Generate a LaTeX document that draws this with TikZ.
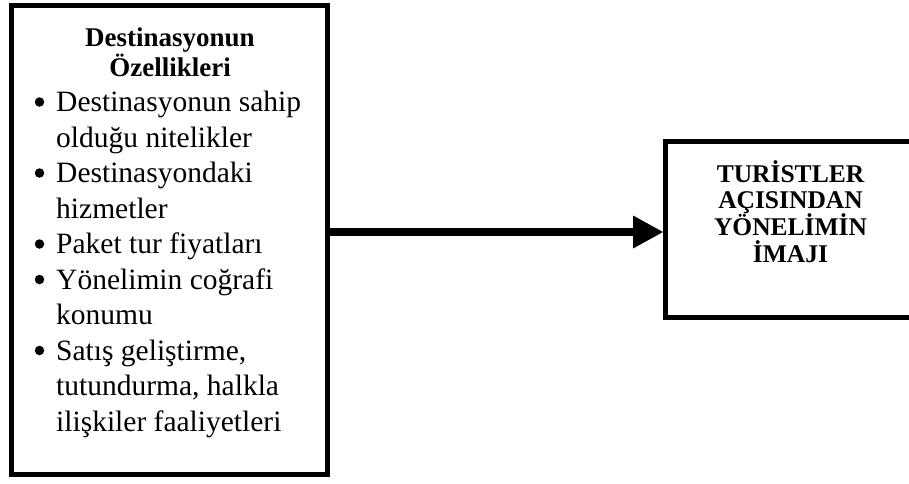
\documentclass[tikz,border=0pt]{standalone}
\usepackage{fontspec}
\setmainfont{Liberation Serif}
\usetikzlibrary{arrows.meta}

\tikzset{
  frame/.style={draw=black, line width=5pt, inner sep=0pt, fill=white},
  bodytext/.style={anchor=base west, inner sep=0pt, font=\fontsize{29.5}{35.5}\selectfont},
  bulletdot/.style={circle, fill=black, inner sep=0pt, minimum size=9.5pt},
  headtext/.style={anchor=base, inner sep=0pt, font=\fontsize{27}{30}\selectfont\bfseries},
  imagetext/.style={anchor=base, inner sep=0pt, font=\fontsize{25.5}{27}\selectfont\bfseries},
  flow/.style={line width=8pt, -{Triangle[length=30pt, width=33pt, line width=0pt]}}
}

\begin{document}
\begin{tikzpicture}[x=1pt, y=-1pt]
  \fill[white] (0,0) rectangle (909,483);
  \useasboundingbox (0,0) rectangle (909,483);
  \clip (0,0) rectangle (909,483);

  % boxes
  \node[frame, minimum width=316pt, minimum height=469pt] (feat) at (169.5,240) {};
  \node[frame, minimum width=249.5pt, minimum height=176pt] (img) at (790.25,229.5) {};

  % left box: heading
  \node[headtext] (h1) at (170,46.7) {Destinasyonun};
  \node[headtext] (h2) at (170,76.7) {Özellikleri};

  % left box: bullet marks
  \node[bulletdot] (b1) at (39.5,102)   {};
  \node[bulletdot] (b2) at (39.5,173)   {};
  \node[bulletdot] (b3) at (39.5,244)   {};
  \node[bulletdot] (b4) at (39.5,279.5) {};
  \node[bulletdot] (b5) at (39.5,350.5) {};

  % left box: item lines
  \node[bodytext] (l1)  at (56,111.5) {Destinasyonun sahip};
  \node[bodytext] (l2)  at (56,147)   {olduğu nitelikler};
  \node[bodytext] (l3)  at (56,182.5) {Destinasyondaki};
  \node[bodytext] (l4)  at (56,218)   {hizmetler};
  \node[bodytext] (l5)  at (56,253.5) {Paket tur fiyatları};
  \node[bodytext] (l6)  at (56,289)   {Yönelimin coğrafi};
  \node[bodytext] (l7)  at (56,324.5) {konumu};
  \node[bodytext] (l8)  at (56,360)   {Satış geliştirme,};
  \node[bodytext] (l9)  at (56,395.5) {tutundurma, halkla};
  \node[bodytext] (l10) at (56,431)   {ilişkiler faaliyetleri};

  % right box: label
  \node[imagetext] (r1) at (790.5,182)   {TURİSTLER};
  \node[imagetext] (r2) at (790.5,208.5) {AÇISINDAN};
  \node[imagetext] (r3) at (790.5,235)   {YÖNELİMİN};
  \node[imagetext] (r4) at (790.5,262)   {İMAJI};

  % connector
  \draw[flow] (feat.east |- 0,232) -- (img.west |- 0,232);
\end{tikzpicture}
\end{document}
